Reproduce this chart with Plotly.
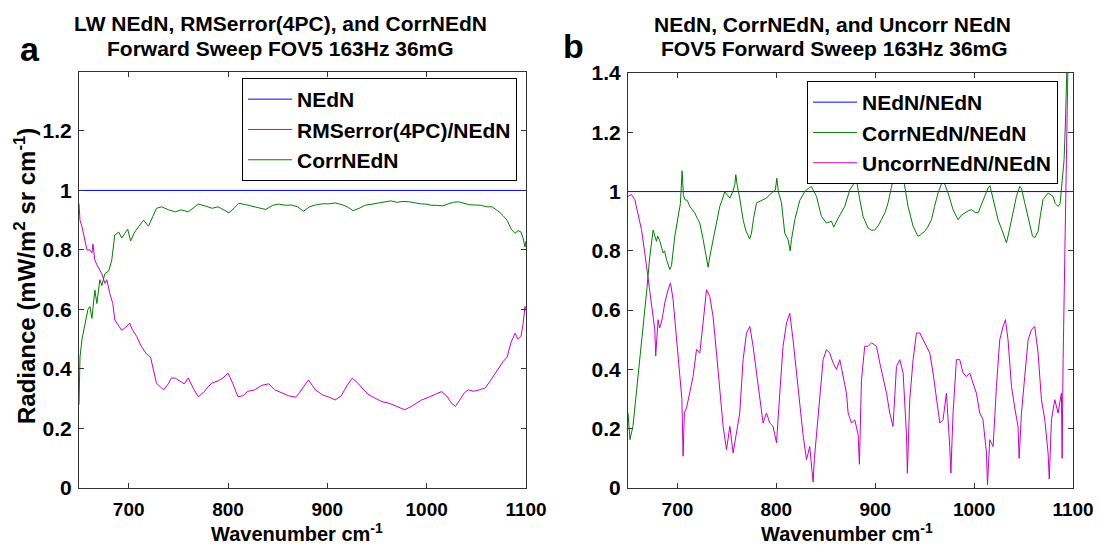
import plotly.graph_objects as go

# ---------------- Panel a data ----------------
wn_a_nedn = [650, 1100]
nedn_a = [1.0, 1.0]

wn_a_rms = [650, 651, 653, 656, 658, 661, 663, 664, 666, 668, 671, 673, 676, 678, 681, 684, 686, 689, 693, 697,
            701, 704, 708, 712, 715, 718, 722, 725, 728, 732, 735, 740, 743, 747, 752, 756, 760, 765, 770, 775,
            780, 784, 790, 795, 800, 805, 810, 815, 820, 827, 834, 841, 847, 854, 861, 868, 872, 876, 881, 888,
            895, 902, 908, 914, 920, 925, 930, 935, 941, 948, 955, 962, 970, 978, 985, 990, 995, 1002, 1008, 1015,
            1020, 1025, 1029, 1033, 1038, 1042, 1047, 1053, 1059, 1064, 1069, 1073, 1077, 1081, 1085, 1089, 1092,
            1095, 1097, 1099, 1100]
rms_a = [0.956, 0.90, 0.878, 0.83, 0.80, 0.80, 0.79, 0.82, 0.766, 0.75, 0.733, 0.72, 0.688, 0.70, 0.654, 0.62,
         0.565, 0.55, 0.53, 0.54, 0.554, 0.53, 0.51, 0.48, 0.464, 0.45, 0.44, 0.40, 0.352, 0.34, 0.33, 0.35,
         0.37, 0.369, 0.36, 0.35, 0.37, 0.335, 0.307, 0.32, 0.34, 0.353, 0.36, 0.37, 0.386, 0.35, 0.307, 0.31,
         0.325, 0.33, 0.345, 0.35, 0.33, 0.319, 0.31, 0.305, 0.32, 0.34, 0.363, 0.33, 0.313, 0.305, 0.296, 0.31,
         0.345, 0.369, 0.355, 0.336, 0.315, 0.302, 0.29, 0.285, 0.275, 0.263, 0.275, 0.285, 0.296, 0.305, 0.315,
         0.324, 0.31, 0.285, 0.274, 0.295, 0.32, 0.33, 0.325, 0.33, 0.336, 0.36, 0.385, 0.408, 0.425, 0.44,
         0.49, 0.52, 0.50, 0.51, 0.55, 0.61, 0.60]

wn_a_corr = [650, 651, 653, 656, 659, 661, 663, 666, 668, 671, 673, 676, 680, 683, 686, 690, 693, 696, 699, 702,
             706, 710, 715, 720, 724, 728, 733, 740, 747, 753, 760, 765, 770, 777, 784, 790, 796, 801, 806, 811,
             818, 827, 833, 838, 845, 851, 858, 864, 870, 876, 882, 888, 895, 902, 908, 915, 920, 926, 932, 938,
             945, 952, 958, 964, 970, 976, 982, 988, 994, 999, 1005, 1010, 1016, 1022, 1027, 1032, 1037, 1043,
             1049, 1055, 1060, 1066, 1070, 1073, 1077, 1081, 1085, 1089, 1092, 1095, 1097, 1099, 1100]
corr_a = [0.28, 0.44, 0.50, 0.555, 0.60, 0.61, 0.57, 0.665, 0.62, 0.70, 0.68, 0.72, 0.73, 0.766, 0.85, 0.86,
          0.84, 0.855, 0.87, 0.83, 0.86, 0.878, 0.90, 0.88, 0.91, 0.94, 0.945, 0.935, 0.928, 0.935, 0.928, 0.94,
          0.954, 0.948, 0.94, 0.945, 0.935, 0.925, 0.94, 0.957, 0.952, 0.945, 0.94, 0.936, 0.95, 0.954, 0.95,
          0.951, 0.945, 0.93, 0.945, 0.951, 0.955, 0.955, 0.958, 0.952, 0.945, 0.932, 0.94, 0.95, 0.954, 0.958,
          0.962, 0.965, 0.96, 0.963, 0.962, 0.958, 0.955, 0.954, 0.95, 0.95, 0.948, 0.955, 0.96, 0.962, 0.958,
          0.952, 0.951, 0.95, 0.945, 0.945, 0.935, 0.928, 0.915, 0.90, 0.87, 0.856, 0.865, 0.86, 0.84, 0.81, 0.83]

# ---------------- Panel b data ----------------
wn_b_nedn = [650, 1100]
nedn_b = [1.0, 1.0]

wn_b_corr = [650, 651, 652, 655, 658.6, 662, 665.3, 668.7, 672, 675.4, 678.8, 680, 682, 685.5, 687, 689, 692.3,
             694, 697.3, 700.7, 703, 704.7, 706, 707.4, 710, 712.5, 715, 717.5, 720, 722.6, 726, 729.4, 731,
             732.7, 736, 739.5, 742.8, 745, 747.9, 750, 753, 756, 758, 759, 760.5, 763, 766.4, 769, 771.4, 773,
             774.9, 777, 780, 785, 790, 795, 799, 800.5, 802, 805.2, 808.5, 811.9, 814, 815.3, 818.7, 823.7,
             828.8, 832, 835.5, 838, 840.6, 845.6, 850.7, 855.8, 858, 862.5, 866, 869.2, 874.3, 879.3, 881,
             884.4, 887.7, 892.8, 896, 899.5, 903, 906.3, 910, 913, 918, 923.1, 926, 928.2, 933.2, 938.3, 943.3,
             946, 950.1, 953, 956.9, 960, 963.5, 968.6, 973.7, 978.7, 983.8, 987, 990.5, 994, 997.3, 1001, 1004,
             1009, 1014.1, 1016, 1019.2, 1024.2, 1029.3, 1032.7, 1035, 1037.8, 1042.8, 1046.2, 1048, 1051.2,
             1056.3, 1059, 1061.3, 1064.7, 1067, 1069.7, 1074.8, 1079.8, 1082, 1084.9, 1087, 1088.3, 1090, 1091,
             1092.5, 1094]
corr_b = [0.253, 0.20, 0.163, 0.208, 0.32, 0.433, 0.545, 0.658, 0.78, 0.87, 0.832, 0.85, 0.835, 0.793, 0.80, 0.77,
          0.737, 0.75, 0.849, 0.916, 0.96, 1.07, 0.99, 0.973, 0.97, 0.95, 0.94, 0.928, 0.91, 0.894, 0.838, 0.77,
          0.745, 0.78, 0.838, 0.894, 0.95, 0.97, 1.0, 0.99, 0.978, 1.0, 1.023, 1.057, 1.02, 0.978, 0.905, 0.87,
          0.849, 0.84, 0.86, 0.91, 0.962, 0.97, 0.978, 0.995, 1.005, 1.045, 1.0, 0.962, 0.86, 0.838, 0.80, 0.838,
          0.905, 0.97, 1.0, 1.01, 1.017, 1.0, 0.984, 0.916, 0.894, 0.90, 0.88, 0.91, 0.93, 0.95, 1.006, 1.029,
          1.04, 0.973, 0.916, 0.877, 0.87, 0.87, 0.885, 0.905, 0.93, 0.962, 1.04, 1.068, 1.07, 1.05, 0.95, 0.883,
          0.849, 0.855, 0.866, 0.88, 0.905, 0.95, 0.995, 1.04, 0.995, 0.939, 0.905, 0.92, 0.928, 0.935, 0.939,
          0.93, 0.928, 0.973, 1.012, 1.02, 0.973, 0.905, 0.86, 0.827, 0.86, 0.905, 0.984, 1.017, 1.01, 0.962,
          0.883, 0.85, 0.844, 0.866, 0.92, 0.973, 0.995, 0.984, 0.96, 0.95, 0.96, 1.006, 1.05, 1.108, 1.25, 1.45]

wn_b_unc = [650, 653.5, 656.9, 660.2, 663.6, 667, 670.3, 673.8, 675.5, 677.1, 678, 680.4, 682, 683.9, 685.5, 687.2,
            690.5, 693, 695.6, 699, 702.4, 704.5, 705.7, 707, 709.2, 712.5, 715.8, 719.3, 722.6, 725.9, 729.4,
            732.7, 736, 739.5, 742.8, 746.2, 749.6, 753, 756.3, 759.7, 763, 766.4, 769.8, 773.2, 776.5, 780,
            783.3, 786.6, 790, 793.4, 796.7, 800.2, 803.5, 806.8, 810.3, 813.6, 816.9, 820.4, 823.7, 827, 830.5,
            833.8, 836, 837.2, 838.5, 840.6, 843.9, 847.3, 850.7, 854, 857.4, 860.8, 864.2, 867.5, 870.9, 872.6,
            876, 879.3, 882.7, 884, 886.1, 889.4, 892.8, 896.2, 901.3, 904.6, 908, 911.4, 914.7, 918, 921.5,
            924.8, 928.2, 931.6, 932.5, 934.9, 938.3, 941.7, 945, 948.4, 951.8, 955.2, 958.5, 961.9, 965.3,
            968.6, 972, 975.4, 976.5, 978.7, 982.1, 985.5, 988.8, 992.3, 995.6, 998.9, 1002.3, 1005.7, 1009,
            1012.5, 1013.5, 1015.8, 1019.2, 1022.6, 1025.9, 1029.3, 1031.7, 1034.3, 1037.8, 1041.1, 1044.4,
            1045.5, 1047.9, 1051.2, 1054.6, 1058, 1061.3, 1064.7, 1068.1, 1071.5, 1074.8, 1076, 1078.2, 1081.6,
            1084.9, 1088.3, 1089, 1090, 1091.6, 1093.4, 1095]
unc_b = [0.984, 0.99, 0.973, 0.928, 0.872, 0.793, 0.703, 0.613, 0.56, 0.534, 0.445, 0.568, 0.54, 0.56, 0.59,
         0.624, 0.669, 0.692, 0.635, 0.5, 0.376, 0.30, 0.107, 0.253, 0.27, 0.32, 0.376, 0.467, 0.455, 0.557,
         0.669, 0.646, 0.579, 0.455, 0.343, 0.208, 0.129, 0.208, 0.118, 0.18, 0.253, 0.433, 0.523, 0.545, 0.478,
         0.388, 0.298, 0.219, 0.253, 0.219, 0.208, 0.152, 0.32, 0.478, 0.557, 0.59, 0.5, 0.388, 0.27, 0.18,
         0.095, 0.14, 0.06, 0.02, 0.1, 0.18, 0.33, 0.433, 0.467, 0.455, 0.422, 0.4, 0.433, 0.376, 0.32, 0.253,
         0.219, 0.23, 0.18, 0.08, 0.365, 0.478, 0.478, 0.49, 0.478, 0.422, 0.376, 0.32, 0.253, 0.208, 0.41,
         0.433, 0.388, 0.18, 0.05, 0.298, 0.433, 0.523, 0.523, 0.5, 0.478, 0.455, 0.388, 0.298, 0.219, 0.23,
         0.32, 0.14, 0.05, 0.253, 0.433, 0.433, 0.388, 0.376, 0.388, 0.354, 0.32, 0.253, 0.23, 0.118, 0.01,
         0.163, 0.14, 0.343, 0.5, 0.545, 0.568, 0.5, 0.343, 0.27, 0.208, 0.10, 0.253, 0.376, 0.5, 0.534, 0.545,
         0.455, 0.298, 0.23, 0.118, 0.03, 0.23, 0.298, 0.253, 0.32, 0.1, 0.433, 0.77, 1.11, 1.45]

x_ticks = [700, 800, 900, 1000, 1100]
y_ticks_a = [0, 0.2, 0.4, 0.6, 0.8, 1, 1.2]
y_ticks_b = [0, 0.2, 0.4, 0.6, 0.8, 1, 1.2, 1.4]

BLUE = "#0000ff"
MAG = "#c800c8"
GREEN = "#008000"
FONT = "Liberation Sans, Arial, sans-serif"

W, H = 1101, 545
OFF = 8  # the page places the figure 8 px in from the top-left corner
def px(x):
    return (x - OFF) / W
def py(y):
    return 1 - (y - OFF) / H

fig = go.Figure()
# panel a
fig.add_trace(go.Scatter(x=wn_a_nedn, y=nedn_a, mode="lines", name="NEdN", line=dict(color=BLUE, width=1),
                         xaxis="x", yaxis="y", legend="legend", legendgroup="a1"))
fig.add_trace(go.Scatter(x=wn_a_rms, y=rms_a, mode="lines", name="RMSerror(4PC)/NEdN", line=dict(color=MAG, width=1),
                         xaxis="x", yaxis="y", legend="legend", legendgroup="a2"))
fig.add_trace(go.Scatter(x=wn_a_corr, y=corr_a, mode="lines", name="CorrNEdN", line=dict(color=GREEN, width=1),
                         xaxis="x", yaxis="y", legend="legend", legendgroup="a3"))
# panel b
fig.add_trace(go.Scatter(x=wn_b_nedn, y=nedn_b, mode="lines", name="NEdN/NEdN", line=dict(color=BLUE, width=1),
                         xaxis="x2", yaxis="y2", legend="legend2", legendgroup="b1"))
fig.add_trace(go.Scatter(x=wn_b_corr, y=corr_b, mode="lines", name="CorrNEdN/NEdN", line=dict(color=GREEN, width=1),
                         xaxis="x2", yaxis="y2", legend="legend2", legendgroup="b2"))
fig.add_trace(go.Scatter(x=wn_b_unc, y=unc_b, mode="lines", name="UncorrNEdN/NEdN", line=dict(color=MAG, width=1),
                         xaxis="x2", yaxis="y2", legend="legend2", legendgroup="b3"))

axis_common = dict(showline=True, linecolor="#333", linewidth=1, mirror="ticks", ticks="inside", ticklen=5,
                   tickcolor="#333", showgrid=False, zeroline=False, automargin=False)
yfont = dict(family=FONT, size=21, color="black", weight="bold")
xfont = dict(family=FONT, size=19, color="black", weight="bold")

fig.update_layout(
    width=W, height=H, margin=dict(l=0, r=0, t=0, b=0, autoexpand=False),
    paper_bgcolor="white", plot_bgcolor="white",
    xaxis=dict(domain=[px(79), px(526)], range=[650, 1100], tickvals=x_ticks, anchor="y",
               ticklabelstandoff=4, tickfont=xfont, **axis_common),
    yaxis=dict(domain=[py(488), py(72)], range=[0, 1.398], tickvals=y_ticks_a, anchor="x",
               ticklabelstandoff=2, tickfont=yfont, **axis_common),
    xaxis2=dict(domain=[px(628), px(1073)], range=[650, 1100], tickvals=x_ticks, anchor="y2",
                ticklabelstandoff=4, tickfont=xfont, **axis_common),
    yaxis2=dict(domain=[py(488), py(73)], range=[0, 1.4], tickvals=y_ticks_b, anchor="x2",
                ticklabelstandoff=2, tickfont=yfont, **axis_common),
    legend=dict(x=px(517), y=py(78), xanchor="right", yanchor="top", bordercolor="black", borderwidth=1,
                bgcolor="white", font=dict(family=FONT, size=21, color="black", weight="bold"),
                itemwidth=44, tracegroupgap=1, traceorder="normal"),
    legend2=dict(x=px(1058), y=py(81), xanchor="right", yanchor="top", bordercolor="black", borderwidth=1,
                 bgcolor="white", font=dict(family=FONT, size=21, color="black", weight="bold"),
                 itemwidth=44, tracegroupgap=0, traceorder="normal"),
    showlegend=True,
)

ann = []
def add_text(text, x, y, size, bold=True, angle=0):
    ann.append(dict(text=text, x=px(x), y=py(y), xref="paper", yref="paper", showarrow=False,
                    xanchor="center", yanchor="middle", textangle=angle,
                    font=dict(family=FONT, size=size, color="black", weight="bold" if bold else "normal")))

add_text("LW NEdN, RMSerror(4PC), and CorrNEdN", 280, 23, 21)
add_text("Forward Sweep FOV5 163Hz 36mG", 280, 48, 21)
add_text("NEdN, CorrNEdN, and Uncorr NEdN", 832, 24, 21)
add_text("FOV5 Forward Sweep 163Hz 36mG", 834, 49, 21)
add_text("a", 30, 49, 34)
add_text("b", 573, 46, 34)
add_text("Radiance (mW/m<sup>2</sup> sr cm<sup>-1</sup>)", 25, 276, 24, angle=-90)
add_text("Wavenumber cm<sup>-1</sup>", 297, 532, 20)
add_text("Wavenumber cm<sup>-1</sup>", 847, 532, 20)
fig.update_layout(annotations=ann)

fig.write_html("out.html")
